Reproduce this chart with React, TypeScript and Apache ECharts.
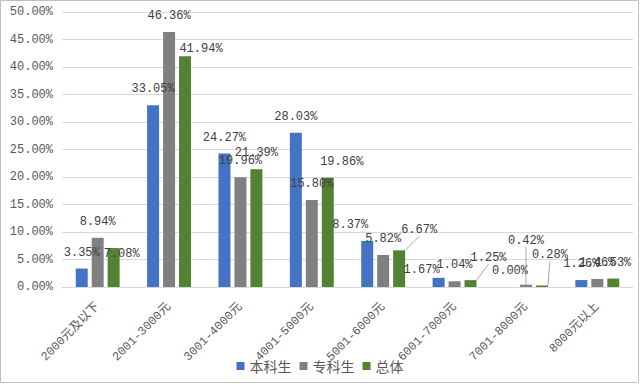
import React, { useEffect, useRef } from "react";
import * as echarts from "echarts";

const categories = [
  "2000元及以下",
  "2001-3000元",
  "3001-4000元",
  "4001-5000元",
  "5001-6000元",
  "6001-7000元",
  "7001-8000元",
  "8000元以上",
];
const seriesNames = ["本科生", "专科生", "总体"];
const undergrad = [3.35, 33.05, 24.27, 28.03, 8.37, 1.67, 0.0, 1.26];
const juniorCollege = [8.94, 46.36, 19.96, 15.8, 5.82, 1.04, 0.42, 1.46];
const overall = [7.08, 41.94, 21.39, 19.86, 6.67, 1.25, 0.28, 1.53];
const yTicks = { min: 0, max: 50, interval: 5 };

const colors = ["#4472c4", "#808080", "#548235"];

// label nudges (style only), keyed "series-index"
const labelShift: Record<string, [number, number]> = {
  "0-4": [-17, 0],
  "0-5": [-17, 8],
  "1-6": [0, -28],
  "2-0": [8, 22],
  "2-1": [16, 9],
  "2-3": [14, 0],
  "2-4": [20, -4],
  "2-5": [18, -6],
  "2-6": [8, -14],
};
const leaderLines = new Set(["1-6", "2-4", "2-5", "2-6"]);

export default function App() {
  const ref = useRef<HTMLDivElement>(null);
  useEffect(() => {
    if (!ref.current) return;
    const chart = echarts.init(ref.current, null, { renderer: "svg" });
    const all = [undergrad, juniorCollege, overall];
    const series = all.map((vals, si) => ({
      name: seriesNames[si],
      type: "bar",
      barWidth: 12,
      barGap: "33%",
      itemStyle: { color: colors[si] },
      label: {
        show: true,
        position: "top",
        distance: 10,
        color: "#404040",
        fontSize: 12,
        fontFamily: "Liberation Mono",
        formatter: (p: any) => Number(p.value).toFixed(2) + "%",
      },
      labelLine: { show: false, lineStyle: { color: "#a6a6a6", width: 1 } },
      labelLayout: (p: any) => {
        const s = labelShift[`${p.seriesIndex}-${p.dataIndex}`];
        return s ? { dx: s[0], dy: s[1] } : {};
      },
      data: vals.map((v, i) => {
        const key = `${si}-${i}`;
        return leaderLines.has(key)
          ? { value: v, labelLine: { show: true, lineStyle: { color: "#a6a6a6", width: 1 } } }
          : { value: v };
      }),
    }));
    chart.setOption({
      animation: false,
      backgroundColor: "#ffffff",
      color: colors,
      grid: { left: 62, right: 7, top: 12, bottom: 97, containLabel: false },
      legend: {
        data: seriesNames,
        top: 354,
        left: "center",
        itemWidth: 8,
        itemHeight: 8,
        itemGap: 8,
        icon: "rect",
        textStyle: { color: "#595959", fontSize: 14, fontFamily: "Noto Sans CJK SC" },
      },
      xAxis: {
        type: "category",
        data: categories,
        axisTick: { show: false },
        axisLine: { lineStyle: { color: "#d9d9d9" } },
        axisLabel: {
          interval: 0,
          rotate: 45,
          margin: 18,
          color: "#595959",
          fontSize: 12,
          fontFamily: "Liberation Mono, Noto Sans CJK SC",
        },
      },
      yAxis: {
        type: "value",
        min: yTicks.min,
        max: yTicks.max,
        interval: yTicks.interval,
        axisLine: { show: false },
        axisTick: { show: false },
        splitLine: { lineStyle: { color: "#d9d9d9" } },
        axisLabel: {
          margin: 9,
          color: "#595959",
          fontSize: 12,
          fontFamily: "Liberation Mono",
          formatter: (v: number) => v.toFixed(2) + "%",
        },
      },
      graphic: [
        {
          type: "rect",
          shape: { x: 0.5, y: 0.5, width: 638, height: 382 },
          style: { fill: "none", stroke: "#bfbfbf", lineWidth: 1 },
          silent: true,
        },
      ],
      series,
    });
    return () => chart.dispose();
  }, []);
  return (
    <div
      ref={ref}
      style={{ position: "fixed", left: 0, top: 0, width: 640, height: 384 }}
    />
  );
}
